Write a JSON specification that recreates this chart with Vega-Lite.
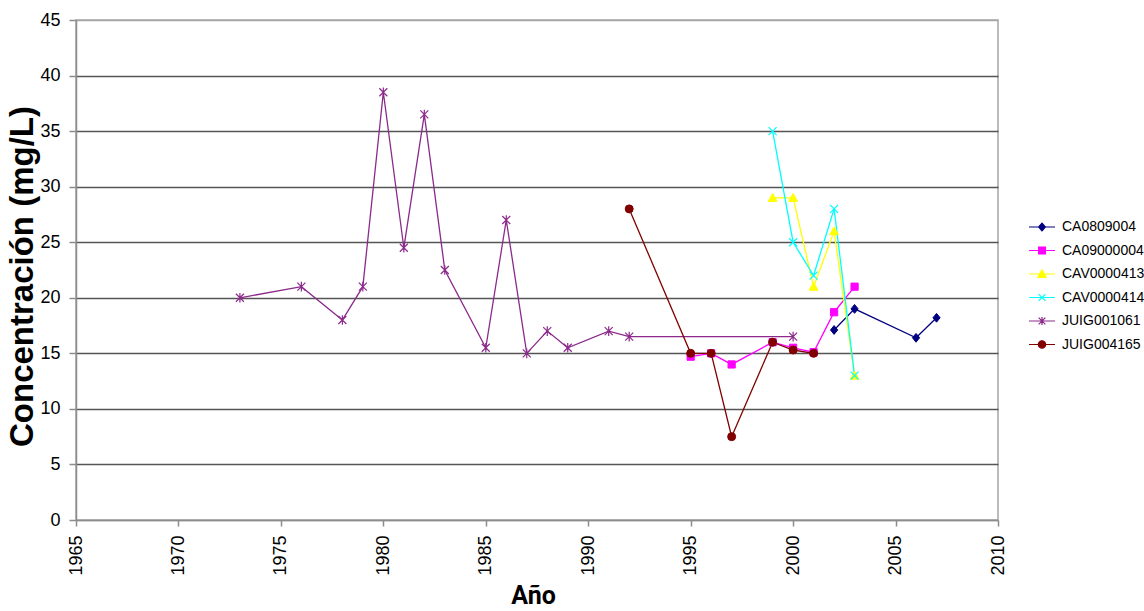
{
  "$schema": "https://vega.github.io/schema/vega-lite/v6.json",
  "width": 922,
  "height": 500,
  "autosize": {"type": "none"},
  "padding": {"left": 76, "top": 20, "right": 146, "bottom": 91},
  "background": "#ffffff",
  "config": {
    "font": "Liberation Sans",
    "view": {"stroke": "#a6a6a6", "strokeWidth": 1.5}
  },
  "data": {
    "values": [
      {"series": "CA0809004", "year": 2002, "value": 17.1},
      {"series": "CA0809004", "year": 2003, "value": 19.0},
      {"series": "CA0809004", "year": 2006, "value": 16.4},
      {"series": "CA0809004", "year": 2007, "value": 18.2},

      {"series": "CA09000004", "year": 1995, "value": 14.7},
      {"series": "CA09000004", "year": 1996, "value": 15.0},
      {"series": "CA09000004", "year": 1997, "value": 14.0},
      {"series": "CA09000004", "year": 1999, "value": 16.0},
      {"series": "CA09000004", "year": 2000, "value": 15.5},
      {"series": "CA09000004", "year": 2001, "value": 15.1},
      {"series": "CA09000004", "year": 2002, "value": 18.7},
      {"series": "CA09000004", "year": 2003, "value": 21.0},

      {"series": "CAV0000413", "year": 1999, "value": 29.0},
      {"series": "CAV0000413", "year": 2000, "value": 29.0},
      {"series": "CAV0000413", "year": 2001, "value": 21.0},
      {"series": "CAV0000413", "year": 2002, "value": 26.0},
      {"series": "CAV0000413", "year": 2003, "value": 13.0},

      {"series": "CAV0000414", "year": 1999, "value": 35.0},
      {"series": "CAV0000414", "year": 2000, "value": 25.0},
      {"series": "CAV0000414", "year": 2001, "value": 22.0},
      {"series": "CAV0000414", "year": 2002, "value": 28.0},
      {"series": "CAV0000414", "year": 2003, "value": 13.0},

      {"series": "JUIG001061", "year": 1973, "value": 20.0},
      {"series": "JUIG001061", "year": 1976, "value": 21.0},
      {"series": "JUIG001061", "year": 1978, "value": 18.0},
      {"series": "JUIG001061", "year": 1979, "value": 21.0},
      {"series": "JUIG001061", "year": 1980, "value": 38.5},
      {"series": "JUIG001061", "year": 1981, "value": 24.5},
      {"series": "JUIG001061", "year": 1982, "value": 36.5},
      {"series": "JUIG001061", "year": 1983, "value": 22.5},
      {"series": "JUIG001061", "year": 1985, "value": 15.5},
      {"series": "JUIG001061", "year": 1986, "value": 27.0},
      {"series": "JUIG001061", "year": 1987, "value": 15.0},
      {"series": "JUIG001061", "year": 1988, "value": 17.0},
      {"series": "JUIG001061", "year": 1989, "value": 15.5},
      {"series": "JUIG001061", "year": 1991, "value": 17.0},
      {"series": "JUIG001061", "year": 1992, "value": 16.5},
      {"series": "JUIG001061", "year": 2000, "value": 16.5},

      {"series": "JUIG004165", "year": 1992, "value": 28.0},
      {"series": "JUIG004165", "year": 1995, "value": 15.0},
      {"series": "JUIG004165", "year": 1996, "value": 15.0},
      {"series": "JUIG004165", "year": 1997, "value": 7.5},
      {"series": "JUIG004165", "year": 1999, "value": 16.0},
      {"series": "JUIG004165", "year": 2000, "value": 15.3},
      {"series": "JUIG004165", "year": 2001, "value": 15.0}
    ]
  },
  "encoding": {
    "x": {
      "field": "year",
      "type": "quantitative",
      "scale": {"domain": [1965, 2010], "nice": false, "zero": false},
      "axis": {
        "title": "Año",
        "values": [1965, 1970, 1975, 1980, 1985, 1990, 1995, 2000, 2005, 2010],
        "format": "d",
        "grid": false,
        "labelAngle": -90,
        "labelFontSize": 18,
        "labelColor": "#000000",
        "labelPadding": 9,
        "labelFlush": false,
        "labelOverlap": false,
        "domainColor": "#8c8c8c",
        "domainWidth": 1.5,
        "tickColor": "#8c8c8c",
        "tickWidth": 1.5,
        "tickSize": 6,
        "titleFont": "Roboto",
        "titleFontWeight": "bold",
        "titleFontSize": 25,
        "titleColor": "#000000",
        "titleX": 457,
        "titleY": 83,
        "titleBaseline": "alphabetic",
        "titleAlign": "center"
      }
    },
    "y": {
      "field": "value",
      "type": "quantitative",
      "scale": {"domain": [0, 45], "nice": false},
      "axis": {
        "title": "Concentración (mg/L)",
        "values": [0, 5, 10, 15, 20, 25, 30, 35, 40, 45],
        "grid": true,
        "gridColor": {
          "condition": {"test": "datum.value === 45 || datum.value === 0", "value": "#a6a6a6"},
          "value": "#555555"
        },
        "gridWidth": 1.5,
        "labelFontSize": 18,
        "labelColor": "#000000",
        "labelPadding": 9,
        "domainColor": "#8c8c8c",
        "domainWidth": 1.5,
        "tickColor": "#8c8c8c",
        "tickWidth": 1.5,
        "tickSize": 7,
        "titleFont": "Liberation Sans",
        "titleFontWeight": "bold",
        "titleFontSize": 33,
        "titleColor": "#000000",
        "titleAngle": -90,
        "titleX": -54,
        "titleY": 256,
        "titleAlign": "center",
        "titleBaseline": "middle"
      }
    },
    "color": {
      "field": "series",
      "type": "nominal",
      "scale": {
        "domain": ["CA0809004", "CA09000004", "CAV0000413", "CAV0000414", "JUIG001061", "JUIG004165"],
        "range": ["#000080", "#ff00ff", "#ffff00", "#00ffff", "#8b2a8b", "#800000"]
      },
      "legend": {
        "orient": "none",
        "legendX": 952,
        "legendY": 193,
        "title": null,
        "labelFontSize": 14,
        "labelColor": "#000000",
        "labelOffset": 6,
        "rowPadding": 2.5,
        "symbolOpacity": 1,
        "encode": {"symbols": {"update": {"size": {"value": 676}, "strokeWidth": {"value": 1.2}, "opacity": {"value": 1}}}}
      }
    }
  },
  "layer": [
    {
      "mark": {"type": "line", "strokeWidth": 1.3}
    },
    {
      "transform": [{"filter": "datum.series === 'CA0809004'"}],
      "mark": {"type": "point", "shape": "M0,-1.1L0.9,0L0,1.1L-0.9,0Z", "size": 64, "filled": true, "fill": "#000080", "stroke": "#000080", "strokeWidth": 1, "opacity": 1}
    },
    {
      "transform": [{"filter": "datum.series === 'CA09000004'"}],
      "mark": {"type": "point", "shape": "M-0.9,-0.9L0.9,-0.9L0.9,0.9L-0.9,0.9Z", "size": 64, "filled": true, "fill": "#ff00ff", "stroke": "#ff00ff", "strokeWidth": 1, "opacity": 1}
    },
    {
      "transform": [{"filter": "datum.series === 'CAV0000413'"}],
      "mark": {"type": "point", "shape": "M0,-1.1L1.1,0.9L-1.1,0.9Z", "size": 64, "filled": true, "fill": "#ffff00", "stroke": "#ffff00", "strokeWidth": 1, "opacity": 1}
    },
    {
      "transform": [{"filter": "datum.series === 'CAV0000414'"}],
      "mark": {"type": "point", "shape": "M-1,-1L1,1M-1,1L1,-1", "size": 64, "filled": false, "stroke": "#00ffff", "strokeWidth": 1.2, "opacity": 1}
    },
    {
      "transform": [{"filter": "datum.series === 'JUIG001061'"}],
      "mark": {"type": "point", "shape": "M-1,-1L1,1M-1,1L1,-1M0,-1.2L0,1.2", "size": 64, "filled": false, "stroke": "#8b2a8b", "strokeWidth": 1.2, "opacity": 1}
    },
    {
      "transform": [{"filter": "datum.series === 'JUIG004165'"}],
      "mark": {"type": "point", "shape": "circle", "size": 64, "filled": true, "fill": "#800000", "stroke": "#800000", "strokeWidth": 1, "opacity": 1}
    },
    {
      "mark": {"type": "point", "filled": true, "opacity": 0, "strokeWidth": 1.2},
      "encoding": {
        "shape": {
          "field": "series",
          "type": "nominal",
          "scale": {
            "domain": ["CA0809004", "CA09000004", "CAV0000413", "CAV0000414", "JUIG001061", "JUIG004165"],
            "range": [
              "M-1,0L1,0M0,-0.3L0.26,0L0,0.3L-0.26,0Z",
              "M-1,0L1,0M-0.26,-0.26L0.26,-0.26L0.26,0.26L-0.26,0.26Z",
              "M-1,0L1,0M0,-0.32L0.32,0.26L-0.32,0.26Z",
              "M-1,0L1,0M-0.26,-0.26L0.26,0.26M-0.26,0.26L0.26,-0.26",
              "M-1,0L1,0M-0.26,-0.26L0.26,0.26M-0.26,0.26L0.26,-0.26M0,-0.3L0,0.3",
              "M-1,0L1,0M0.28,0A0.28,0.28,0,1,1,-0.28,0A0.28,0.28,0,1,1,0.28,0Z"
            ]
          },
          "legend": null
        },
        "stroke": {
          "field": "series",
          "type": "nominal",
          "scale": {
            "domain": ["CA0809004", "CA09000004", "CAV0000413", "CAV0000414", "JUIG001061", "JUIG004165"],
            "range": ["#000080", "#ff00ff", "#ffff00", "#00ffff", "#8b2a8b", "#800000"]
          },
          "legend": null
        },
        "size": {"value": 676}
      }
    }
  ]
}
